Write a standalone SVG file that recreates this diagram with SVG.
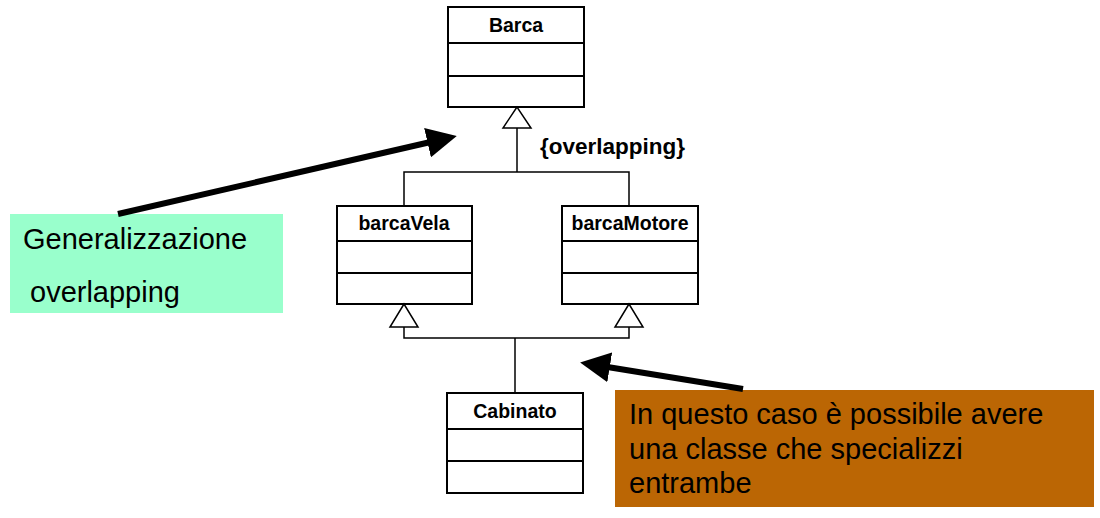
<svg xmlns="http://www.w3.org/2000/svg" width="1100" height="518" viewBox="0 0 1100 518">
<style>
.box{fill:#fff;stroke:#000;stroke-width:2}
.div{stroke:#000;stroke-width:2}
.cls{font-family:"Liberation Sans",Arial,sans-serif;font-weight:bold;font-size:19.5px;fill:#000;text-anchor:middle}
.ln{fill:none;stroke:#000;stroke-width:1.5}
.tri{fill:#fff;stroke:#000;stroke-width:1.5}
.note{font-family:"Liberation Sans",Arial,sans-serif;font-size:29px;fill:#000}
.big{fill:none;stroke:#000;stroke-width:6}
</style>
<defs>
<marker id="ah" markerWidth="5" markerHeight="5" refX="3.5" refY="2.5" orient="auto" markerUnits="strokeWidth">
<path d="M0,0 L5,2.5 L0,5 Z" fill="#000"/>
</marker>
</defs>
<rect width="1100" height="518" fill="#fff"/>
<g id="note1">
<rect x="10" y="214" width="273" height="99" fill="#99ffcc"/>
<text class="note" x="23" y="249">Generalizzazione</text>
<text class="note" x="30" y="302">overlapping</text>
</g>
<g id="note2">
<rect x="615" y="390" width="479" height="117" fill="#bb6604"/>
<text class="note" x="629" y="424">In questo caso è possibile avere</text>
<text class="note" x="629" y="459">una classe che specializzi</text>
<text class="note" x="629" y="493">entrambe</text>
</g>
<g id="Barca">
<rect class="box" x="448" y="7" width="136" height="100"/>
<line class="div" x1="448" y1="43" x2="584" y2="43"/>
<line class="div" x1="448" y1="76" x2="584" y2="76"/>
<text class="cls" x="516" y="32">Barca</text>
</g>
<g id="barcaVela">
<rect class="box" x="337" y="206" width="135" height="98"/>
<line class="div" x1="337" y1="241" x2="472" y2="241"/>
<line class="div" x1="337" y1="273" x2="472" y2="273"/>
<text class="cls" x="404" y="230">barcaVela</text>
</g>
<g id="barcaMotore">
<rect class="box" x="562" y="206" width="136" height="98"/>
<line class="div" x1="562" y1="241" x2="698" y2="241"/>
<line class="div" x1="562" y1="273" x2="698" y2="273"/>
<text class="cls" x="630" y="230">barcaMotore</text>
</g>
<g id="Cabinato">
<rect class="box" x="447" y="393" width="136" height="100"/>
<line class="div" x1="447" y1="429" x2="583" y2="429"/>
<line class="div" x1="447" y1="461" x2="583" y2="461"/>
<text class="cls" x="515" y="418">Cabinato</text>
</g>
<g id="connectors">
<polyline class="ln" points="404,206 404,172 629,172 629,206"/>
<line class="ln" x1="517" y1="128" x2="517" y2="172"/>
<polygon class="tri" points="517,107 503,128 531,128"/>
<polyline class="ln" points="404,327 404,338 629,338 629,327"/>
<line class="ln" x1="515" y1="338" x2="515" y2="393"/>
<polygon class="tri" points="404,304 390,327 418,327"/>
<polygon class="tri" points="629,304 615,327 643,327"/>
<text x="540" y="154" font-family="'Liberation Sans',Arial,sans-serif" font-weight="bold" font-size="22.5px" fill="#000">{overlapping}</text>
<line class="big" x1="118" y1="214" x2="448" y2="138" marker-end="url(#ah)"/>
<line class="big" x1="743" y1="389" x2="589" y2="364" marker-end="url(#ah)"/>
</g>
</svg>
